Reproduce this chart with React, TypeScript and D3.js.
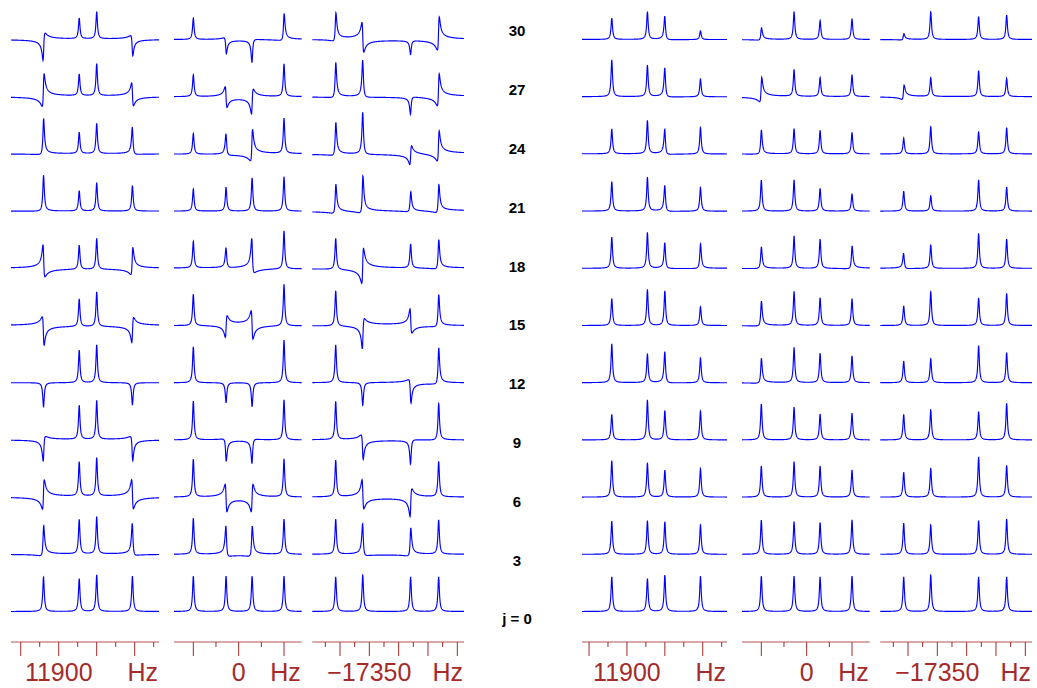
import React from "react";
import * as d3 from "d3";

// rows of the stack, bottom to top
const J_VALUES = [0, 3, 6, 9, 12, 15, 18, 21, 24, 27, 30];

// three spectral windows (Hz)
const PEAKS_A = [11920, 11873, 11850, 11803];
const PEAKS_B = [50, 13.9, -14.8, -50];
const PEAKS_C = [-17292.7, -17338.8, -17420.4, -17468.2];

const MAJOR_A = [11950, 11900, 11850, 11800];
const MINOR_A = [11925, 11875, 11825, 11775];
const MAJOR_B = [50, 0, -50];
const MINOR_B = [25, -25];
const MAJOR_C = [-17300, -17350, -17400, -17450, -17500];
const MINOR_C = [-17275, -17325, -17375, -17425, -17475];

const WINDOW_LABELS = ["11900", "0", "\u221217350"];
const LABEL_HZ = [11900, 0, -17350];

// amplitudes (rows j = 0..30, four lines each) and phases in degrees
const ampL1 = [
  [0.99, 0.94, 1.04, 1.01],
  [0.86, 0.98, 1.06, 0.91],
  [0.84, 0.98, 1.09, 0.83],
  [0.71, 0.97, 1.11, 0.69],
  [0.69, 0.93, 1.08, 0.64],
  [0.81, 0.79, 0.99, 0.71],
  [0.92, 0.69, 0.88, 0.77],
  [1.03, 0.58, 0.81, 0.73],
  [1.03, 0.61, 0.86, 0.77],
  [0.93, 0.62, 0.91, 0.65],
  [0.78, 0.59, 0.77, 0.57],
];
const phL1 = [
  [0, 0, 0, 0],
  [25, 0, 0, -20],
  [81, 0, 0, -80],
  [138, 0, 0, -138],
  [180, 0, 0, 180],
  [-112, 0, 0, 110],
  [-61, 0, 0, 56],
  [5, 0, 0, 0],
  [15, 0, 0, -15],
  [67, 0, 0, -80],
  [123, 0, 0, -130],
];
const ampL2 = [
  [1.01, 1.01, 1.01, 1.01],
  [1.03, 0.86, 0.86, 1.0],
  [1.08, 0.78, 0.78, 1.08],
  [1.11, 0.63, 0.69, 1.14],
  [1.03, 0.57, 0.69, 1.22],
  [0.9, 0.62, 0.81, 1.19],
  [0.76, 0.57, 0.98, 1.09],
  [0.63, 0.68, 0.95, 0.98],
  [0.59, 0.61, 0.9, 1.0],
  [0.62, 0.59, 0.71, 0.93],
  [0.61, 0.45, 0.66, 0.77],
];
const phL2 = [
  [0, 0, 0, 0],
  [0, -25, 25, 0],
  [0, -90, 90, 0],
  [0, -155, 160, 0],
  [0, 180, 180, 0],
  [0, 101, -91, 0],
  [0, -10, -41, 0],
  [0, 0, 0, 0],
  [0, -15, 55, 0],
  [0, -88, 110, 0],
  [0, -139, 162, 20],
];
const ampL3 = [
  [0.99, 1.04, 0.99, 0.99],
  [1.0, 0.91, 0.8, 0.98],
  [1.04, 0.83, 0.79, 1.01],
  [1.09, 0.7, 0.69, 1.05],
  [1.08, 0.66, 0.67, 1.03],
  [1.01, 0.86, 0.69, 0.91],
  [0.89, 1.0, 0.69, 0.83],
  [0.83, 1.06, 0.57, 0.8],
  [0.94, 1.2, 0.54, 0.86],
  [1.0, 1.06, 0.49, 0.91],
  [0.8, 0.85, 0.4, 0.95],
];
const phL3 = [
  [0, 0, 0, 0],
  [0, -20, 25, 0],
  [0, -77, 112, 0],
  [0, -126, 165, 5],
  [0, 180, -136, 15],
  [0, 125, -69, 15],
  [0, 82, 0, 20],
  [25, 25, 20, 30],
  [20, -5, 93, 61],
  [15, -10, 160, 65],
  [30, -82, 170, 68],
];
const ampR1 = [
  [0.99, 0.94, 1.04, 1.01],
  [0.95, 0.96, 0.93, 0.84],
  [1.04, 0.98, 0.77, 0.82],
  [0.73, 1.14, 0.84, 0.83],
  [1.11, 0.82, 0.89, 0.71],
  [0.77, 1.03, 0.99, 0.54],
  [0.89, 1.02, 0.74, 0.71],
  [0.84, 0.96, 0.74, 0.68],
  [0.71, 0.95, 0.71, 0.76],
  [1.05, 0.89, 0.83, 0.51],
  [0.61, 0.79, 0.67, 0.25],
];
const phR1 = [
  [0, 0, 0, 0],
  [0, 0, 0, 0],
  [0, 0, 0, 0],
  [0, 0, 0, 0],
  [0, 0, -8, 0],
  [0, 0, 0, 0],
  [0, 0, -8, 8],
  [0, 0, -10, 0],
  [0, 0, -15, 0],
  [0, 0, -10, 0],
  [0, 0, -10, 0],
];
const ampR2 = [
  [1.01, 1.01, 0.99, 1.01],
  [0.98, 0.93, 0.91, 0.98],
  [0.89, 1.01, 0.89, 0.77],
  [1.03, 0.93, 0.74, 0.76],
  [0.71, 1.0, 0.84, 0.76],
  [0.71, 0.97, 0.79, 0.76],
  [0.62, 0.92, 0.84, 0.65],
  [0.89, 0.89, 0.65, 0.49],
  [0.69, 0.71, 0.67, 0.61],
  [0.69, 0.76, 0.54, 0.62],
  [0.35, 0.79, 0.54, 0.59],
];
const phR2 = [
  [0, 0, 0, 0],
  [0, 0, 0, 0],
  [0, 0, 0, 0],
  [0, 0, 0, 0],
  [15, 0, 0, 0],
  [15, 0, 0, 0],
  [10, 0, 0, 15],
  [0, 0, 0, 0],
  [10, 0, 0, 0],
  [54, 0, 0, 0],
  [25, 0, 0, 0],
];
const ampR3 = [
  [0.99, 1.04, 0.99, 0.99],
  [0.89, 0.84, 0.96, 1.01],
  [0.71, 0.82, 1.15, 0.91],
  [0.73, 0.86, 0.81, 1.05],
  [0.62, 0.69, 1.06, 0.86],
  [0.56, 0.97, 0.79, 0.92],
  [0.43, 0.67, 1.0, 0.84],
  [0.57, 0.44, 0.89, 0.69],
  [0.45, 0.78, 0.64, 0.75],
  [0.41, 0.54, 0.74, 0.52],
  [0.18, 0.79, 0.65, 0.7],
];
const phR3 = [
  [0, 0, 0, 0],
  [0, 0, 0, 0],
  [0, 0, 0, 0],
  [0, 0, 0, 0],
  [0, 0, 0, 0],
  [0, 0, 0, 0],
  [-15, 0, 0, 0],
  [0, 0, 0, 0],
  [0, 0, 0, 0],
  [51, 0, 0, 0],
  [30, 0, 0, 0],
];

const WIDTH = 1037;
const HEIGHT = 688;
const HWHM = 0.9; // line half width, px
const UNIT = 35; // px per intensity unit
const AXIS_Y = 642;
const LABEL_BASE = 681;
const LABEL_SIZE = 25;
const RED = "#a52a2a";
const FONT = "'Liberation Sans', Arial, sans-serif";

const windows = [
  { peaks: PEAKS_A, major: MAJOR_A, minor: MINOR_A },
  { peaks: PEAKS_B, major: MAJOR_B, minor: MINOR_B },
  { peaks: PEAKS_C, major: MAJOR_C, minor: MINOR_C },
];

const panels = [
  { w: 0, domain: [11962.8, 11768], range: [11, 159], amp: ampL1, ph: phL1 },
  { w: 1, domain: [71.3, -69.5], range: [174, 301.7], amp: ampL2, ph: phL2 },
  { w: 2, domain: [-17252.8, -17511.4], range: [312.3, 464], amp: ampL3, ph: phL3 },
  { w: 0, domain: [11959.3, 11768], range: [582, 727], amp: ampR1, ph: phR1 },
  { w: 1, domain: [71.3, -69.5], range: [742, 869.7], amp: ampR2, ph: phR2 },
  { w: 2, domain: [-17252.8, -17511.4], range: [880.3, 1032], amp: ampR3, ph: phR3 },
];

const baseY = d3.scaleLinear().domain([0, 30]).range([611.5, 39.5]);
const labelY = d3.scaleLinear().domain([0, 30]).range([619, 31]);

const Spectrum = ({ x, peaks, amps, phases, base }) => {
  const y = d3.scaleLinear().domain([0, 1]).range([base, base - UNIT]);
  const [d0, d1] = x.domain();
  const n = Math.round(Math.abs(x(d1) - x(d0)) * 5);
  const pts = d3.range(n + 1).map((i) => {
    const f = d0 + ((d1 - d0) * i) / n;
    const px = x(f);
    let v = 0;
    peaks.forEach((f0, k) => {
      const u = (px - x(f0)) / HWHM;
      const a = 1 / (1 + u * u);
      const p = (phases[k] * Math.PI) / 180;
      v += amps[k] * (Math.cos(p) * a + Math.sin(p) * u * a);
    });
    return [px, y(v)];
  });
  const line = d3.line();
  return <path d={line(pts)} fill="none" stroke="#0000ff" strokeWidth={1.15} />;
};

const Axis = ({ x, win, wi }) => {
  const [x0, x1] = x.range();
  return (
    <g>
      <line x1={x0} x2={x1} y1={AXIS_Y} y2={AXIS_Y} stroke={RED} strokeWidth={1.2} opacity={0.8} />
      {win.major.map((t) => (
        <line key={"M" + t} x1={x(t)} x2={x(t)} y1={AXIS_Y} y2={AXIS_Y + 14} stroke={RED} strokeWidth={1} />
      ))}
      {win.minor.map((t) => (
        <line key={"m" + t} x1={x(t)} x2={x(t)} y1={AXIS_Y} y2={AXIS_Y + 5} stroke={RED} strokeWidth={1} />
      ))}
      <text x={x(LABEL_HZ[wi])} y={LABEL_BASE} textAnchor="middle" fontSize={LABEL_SIZE} fill={RED} fontFamily={FONT}>
        {WINDOW_LABELS[wi]}
      </text>
      <text x={x1 - 1} y={LABEL_BASE} textAnchor="end" fontSize={LABEL_SIZE} fill={RED} fontFamily={FONT}>
        Hz
      </text>
    </g>
  );
};

export default function App() {
  return (
    <svg
      width={WIDTH}
      height={HEIGHT}
      style={{ position: "absolute", left: 0, top: 0, background: "#fff" }}
    >
      {panels.map((p, pi) => {
        const win = windows[p.w];
        const x = d3.scaleLinear().domain(p.domain).range(p.range);
        return (
          <g key={pi}>
            {J_VALUES.map((j, r) => (
              <Spectrum
                key={j}
                x={x}
                peaks={win.peaks}
                amps={p.amp[r]}
                phases={p.ph[r]}
                base={baseY(j)}
              />
            ))}
            <Axis x={x} win={win} wi={p.w} />
          </g>
        );
      })}
      {J_VALUES.map((j) => (
        <text
          key={j}
          x={517}
          y={labelY(j)}
          dy="0.36em"
          textAnchor="middle"
          fontSize={15}
          fontWeight="bold"
          fontFamily={FONT}
        >
          {j === 0 ? "j = 0" : j}
        </text>
      ))}
    </svg>
  );
}
